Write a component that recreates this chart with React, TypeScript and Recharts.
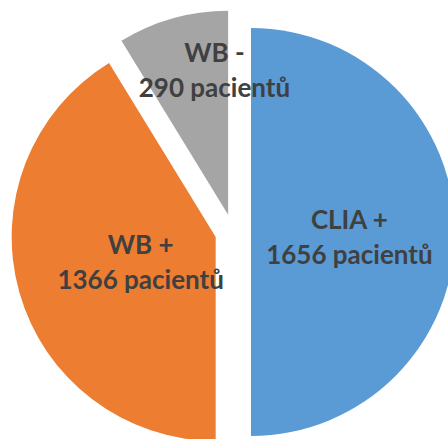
import { PieChart, Pie, Cell, Sector } from 'recharts'

const categories = ['CLIA +', 'WB +', 'WB -']
const patients = [1656, 1366, 290]
const sliceColors = ['#5B9BD5', '#ED7D31', '#A5A5A5']

const data = categories.map((name, i) => ({ name, value: patients[i] }))

const RAD = Math.PI / 180
const EXPLODE = 18

// per-slice label placement: fraction of radius from the slice's own center, angle nudge
const labelPos = [
  { frac: 0.487, nudge: -8 },
  { frac: 0.405, nudge: 9 },
  { frac: 0.669, nudge: -10 },
]

// eslint-disable-next-line @typescript-eslint/no-explicit-any
function ExplodedSector(props: any) {
  const { cx, cy, midAngle } = props
  const dx = EXPLODE * Math.cos(-midAngle * RAD)
  const dy = EXPLODE * Math.sin(-midAngle * RAD)
  return <Sector {...props} cx={cx + dx} cy={cy + dy} stroke="none" />
}

// eslint-disable-next-line @typescript-eslint/no-explicit-any
function SliceLabel(props: any) {
  const { cx, cy, midAngle, outerRadius, index, name, value } = props
  const ox = cx + EXPLODE * Math.cos(-midAngle * RAD)
  const oy = cy + EXPLODE * Math.sin(-midAngle * RAD)
  const p = labelPos[index]
  const a = midAngle + p.nudge
  const x = ox + outerRadius * p.frac * Math.cos(-a * RAD)
  const y = oy + outerRadius * p.frac * Math.sin(-a * RAD)
  return (
    <text
      x={x}
      y={y}
      textAnchor="middle"
      fill="#404040"
      style={{ fontFamily: 'Lato, sans-serif', fontWeight: 700, fontSize: 26 }}
    >
      <tspan x={x} dy={-17}>{name}</tspan>
      <tspan x={x} dy={35}>{`${value} pacientů`}</tspan>
    </text>
  )
}

export default function App() {
  return (
    <div style={{ position: 'absolute', left: 0, top: 0 }}>
      <PieChart width={448} height={439} margin={{ top: 0, right: 0, bottom: 0, left: 0 }}>
        <Pie
          data={data}
          dataKey="value"
          nameKey="name"
          cx={233}
          cy={232}
          outerRadius={204}
          startAngle={90}
          endAngle={-270}
          stroke="none"
          shape={ExplodedSector}
          label={SliceLabel}
          labelLine={false}
          isAnimationActive={false}
        >
          {data.map((d, i) => (
            <Cell key={d.name} fill={sliceColors[i]} />
          ))}
        </Pie>
      </PieChart>
    </div>
  )
}
